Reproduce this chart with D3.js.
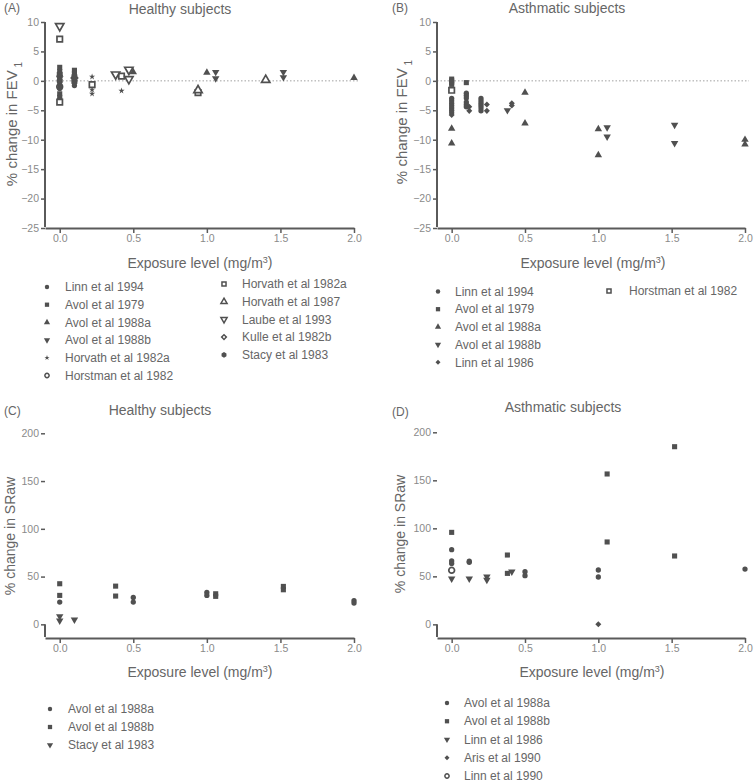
<!DOCTYPE html>
<html>
<head>
<meta charset="utf-8">
<script src="https://cdn.jsdelivr.net/npm/d3@7"></script>
<style>
    body { margin: 0; background: #fff; }
    svg { font-family: "Liberation Sans", Arial, sans-serif; }
</style>
</head>
<body>
<svg id="chart" width="755" height="782"></svg>
<script>
// ── Axis ticks ─────────────────────────────────────────────────────────────
const xTicks    = [0, 0.5, 1.0, 1.5, 2.0];
const fevTicks  = [10, 5, 0, -5, -10, -15, -20, -25];
const srawTicks = [0, 50, 100, 150, 200];

// ── Panel A: healthy subjects, % change in FEV1  ([exposure, change]) ──────
const aHorstman1982    = [[0, -1.0]];
const aLinn1994        = [[0, 0.8], [0, 0.3], [0, -0.2], [0, -0.7], [0, -1.3], [0.1, -0.3], [0.1, -0.8]];
const aAvol1979        = [[0, 2.3], [0, 1.6], [0, -2.2], [0, -2.8], [0, -3.3], [0.1, 1.8], [0.1, 1.2]];
const aAvol1988a       = [[0, 1.1], [0.5, 1.5], [1.0, 1.4], [2.0, 0.5]];
const aAvol1988b       = [[0, 0.4], [1.06, 1.5], [1.06, 0.4], [1.52, 1.5], [1.52, 0.6]];
const aHorvath1982a    = [[0.22, 0.7], [0.22, -1.5], [0.22, -2.2], [0.42, -1.7]];
const aKulle1982b      = [[0.1, 0.5]];
const aStacy1983       = [[0, 0.0], [0, 1.2], [0.1, 0.2], [0.1, 0.8], [0.1, -0.2]];
const aHorvath1982aSq  = [[0, 7.1], [0, -3.6], [0.22, -0.65], [0.42, 0.8], [0.94, -2.0]];
const aHorvath1987     = [[0.94, -1.6], [1.4, 0.15]];
const aLaube1993       = [[0, 9.3], [0.38, 1.1], [0.47, 1.9], [0.47, 0.3]];

// ── Panel B: asthmatic subjects, % change in FEV1 ──────────────────────────
const bLinn1994     = [[0, -3.0], [0, -3.4], [0, -3.8], [0, -4.2], [0, -4.6], [0, -5.0], [0, -5.4],
                       [0.1, -2.1], [0.1, -2.5], [0.1, -2.9], [0.1, -3.6], [0.1, -4.0], [0.1, -4.4],
                       [0.2, -3.0], [0.2, -3.4], [0.2, -3.8], [0.2, -4.2], [0.2, -4.6], [0.2, -5.1]];
const bAvol1979     = [[0, 0.3], [0, 0], [0, -0.3], [0, -0.6], [0.1, -0.3]];
const bAvol1988a    = [[0, -8.1], [0, -10.6], [0.5, -2.0], [0.5, -7.2], [1.0, -8.2], [1.0, -12.6], [2.0, -10.0], [2.0, -10.8]];
const bAvol1988b    = [[0.38, -5.0], [1.06, -7.9], [1.06, -9.5], [1.52, -7.5], [1.52, -10.6]];
const bLinn1986     = [[0, -5.8], [0.12, -4.4], [0.12, -5.1], [0.24, -4.0], [0.24, -5.1], [0.41, -3.8], [0.41, -4.2]];
const bHorstman1982 = [[0, -1.6]];

// ── Panel C: healthy subjects, % change in SRaw ────────────────────────────
const cAvol1988a = [[0, 23.3], [0.5, 28.2], [0.5, 23.3], [1.0, 33.4], [1.0, 30.3], [2.0, 24.7], [2.0, 22.3]];
const cAvol1988b = [[0, 42.5], [0, 30.3], [0.38, 40], [0.38, 29.6], [1.06, 32], [1.06, 29.3], [1.52, 39.7], [1.52, 36.2]];
const cStacy1983 = [[0, 8.4], [0, 3.8], [0.1, 4.9]];

// ── Panel D: asthmatic subjects, % change in SRaw ──────────────────────────
const dAvol1988a = [[0, 77.8], [0, 66], [0, 63.5], [0.12, 65.8], [0.12, 64.6], [0.5, 54.9], [0.5, 50.7],
                    [1.0, 56.6], [1.0, 49.3], [2.0, 57.6]];
const dAvol1988b = [[0, 95.8], [0.38, 72.2], [0.38, 53.1], [1.06, 156.6], [1.06, 85.8], [1.52, 185], [1.52, 71.2]];
const dLinn1986  = [[0, 47.6], [0.12, 47.6], [0.24, 49.7], [0.24, 46.2], [0.41, 54.9]];
const dAris1990  = [[1.0, 0]];
const dLinn1990  = [[0, 56.3]];

(function () {
    const INK = "#505050", AXIS = "#5a5a5a", TXT = "#666", TICK = "#8a8a8a";
    const svg = d3.select("#chart");

    // ── Marker shapes ──────────────────────────────────────────────────────
    const hexagon = {
        draw(ctx, size) {
            const r = Math.sqrt(size / 2.598);
            for (let i = 0; i < 6; i++) {
                const a = Math.PI / 6 + i * Math.PI / 3;
                i ? ctx.lineTo(r * Math.cos(a), r * Math.sin(a)) : ctx.moveTo(r * Math.cos(a), r * Math.sin(a));
            }
            ctx.closePath();
        }
    };
    const SHAPES = {
        circle:           { type: d3.symbolCircle,   size: 22, fill: true },
        square:           { type: d3.symbolSquare,   size: 26, fill: true },
        triangle:         { type: d3.symbolTriangle, size: 24, fill: true },
        triangleDown:     { type: d3.symbolTriangle, size: 24, fill: true, rot: 180 },
        star:             { type: d3.symbolStar,     size: 12, fill: true },
        diamond:          { type: d3.symbolSquare,   size: 18, fill: true, rot: 45 },
        hexagon:          { type: hexagon,           size: 30, fill: true },
        openCircle:       { type: d3.symbolCircle,   size: 26, fill: false },
        openSquare:       { type: d3.symbolSquare,   size: 30, fill: false },
        openTriangle:     { type: d3.symbolTriangle, size: 30, fill: false },
        openTriangleDown: { type: d3.symbolTriangle, size: 30, fill: false, rot: 180 },
        openDiamond:      { type: d3.symbolSquare,   size: 20, fill: false, rot: 45 }
    };

    function marker(g, shape, x, y, k) {
        const s = SHAPES[shape];
        const legend = k !== undefined;
        const scale = legend ? (s.fill ? k : 0.55) : 1;
        g.append("path")
            .attr("d", d3.symbol().type(s.type).size(s.size * scale)())
            .attr("transform", `translate(${x},${y})` + (s.rot ? ` rotate(${s.rot})` : ""))
            .attr("fill", s.fill ? INK : "#fff")
            .attr("stroke", s.fill ? "none" : INK)
            .attr("stroke-width", s.fill ? 0 : (legend ? 1.5 : 1.7));
    }

    function xLabel(x, y) {
        const t = svg.append("text").attr("x", x).attr("y", y).attr("text-anchor", "middle")
            .attr("dy", "0.35em").attr("font-size", 14).attr("fill", TXT).text("Exposure level (mg/m");
        t.append("tspan").attr("font-size", 9).attr("dy", "-0.6em").text("3");
        t.append("tspan").attr("dy", "0.35em").text(")");
    }

    // ── Panel builder ──────────────────────────────────────────────────────
    function drawPanel(p) {
        const x = d3.scaleLinear().domain([-0.1, 2.0]).range([p.x0, p.x1]);
        const y = d3.scaleLinear().domain(p.yDomain).range([p.yBottom, p.yTop]);
        const g = svg.append("g");

        // zero reference line
        if (p.zeroLine) {
            g.append("line").attr("x1", p.x0).attr("x2", p.x1 + 4)
                .attr("y1", y(0)).attr("y2", y(0))
                .attr("stroke", "#a0a0a0").attr("stroke-width", 1).attr("stroke-dasharray", "1.5,2");
        }

        const yAx = g.append("g").attr("transform", `translate(${p.x0},0)`)
            .call(d3.axisLeft(y).tickValues(p.yTicks).tickSize(4).tickPadding(2).tickSizeOuter(0));
        const xAx = g.append("g").attr("transform", `translate(0,${p.yBottom})`)
            .call(d3.axisBottom(x).tickValues(xTicks).tickFormat(d3.format(".1f")).tickSize(5).tickPadding(2).tickSizeOuter(0));
        [yAx, xAx].forEach(ax => {
            ax.attr("color", AXIS);
            ax.select(".domain").attr("stroke", AXIS).attr("stroke-width", 2);
            ax.selectAll(".tick line").attr("stroke", AXIS).attr("stroke-width", 1.5);
            ax.selectAll(".tick text").attr("fill", TICK).attr("font-size", 10.5)
                .attr("font-family", "Liberation Sans, Arial, sans-serif");
        });
        yAx.select(".domain").attr("d", `M0,${p.yBottom - 1}V${y(p.yTicks[0])}`);

        // markers
        p.series.forEach(s => s.data.forEach(([dx, dy]) => marker(g, s.shape, x(dx), y(dy))));

        // titles
        svg.append("text").attr("x", p.tagX).attr("y", p.tagY).attr("dy", "0.35em")
            .attr("font-size", 12).attr("fill", TXT).text(p.tag);
        svg.append("text").attr("x", p.titleX).attr("y", p.titleY).attr("dy", "0.35em")
            .attr("text-anchor", "middle").attr("font-size", 14).attr("fill", TXT).text(p.title);

        // y label
        const yl = svg.append("text")
            .attr("transform", `translate(${p.ylX},${p.ylY}) rotate(-90)`)
            .attr("text-anchor", "middle").attr("dy", "0.35em")
            .attr("font-size", p.ylSize).attr("fill", TXT).text(p.yLabel);
        if (p.ylSub) yl.append("tspan").attr("font-size", 10).attr("dy", "0.45em").text(" " + p.ylSub);

        xLabel(p.xlX, p.xlY);

        // legend
        p.legend.forEach(col => col.items.forEach((s, i) => {
            const yy = col.y + i * col.dy;
            marker(svg, s.shape, col.sx, yy, 0.7);
            svg.append("text").attr("x", col.tx).attr("y", yy).attr("dy", "0.35em")
                .attr("font-size", 12).attr("fill", TXT).text(s.name);
        }));
    }

    // ── Series lists ───────────────────────────────────────────────────────
    const sA = {
        horstman: { name: "Horstman et al 1982", shape: "openCircle", data: aHorstman1982 },
        linn94:   { name: "Linn et al 1994", shape: "circle", data: aLinn1994 },
        avol79:   { name: "Avol et al 1979", shape: "square", data: aAvol1979 },
        avol88a:  { name: "Avol et al 1988a", shape: "triangle", data: aAvol1988a },
        avol88b:  { name: "Avol et al 1988b", shape: "triangleDown", data: aAvol1988b },
        horv82:   { name: "Horvath et al 1982a", shape: "star", data: aHorvath1982a },
        kulle:    { name: "Kulle et al 1982b", shape: "openDiamond", data: aKulle1982b },
        stacy:    { name: "Stacy et al 1983", shape: "hexagon", data: aStacy1983 },
        horv82sq: { name: "Horvath et al 1982a", shape: "openSquare", data: aHorvath1982aSq },
        horv87:   { name: "Horvath et al 1987", shape: "openTriangle", data: aHorvath1987 },
        laube:    { name: "Laube et al 1993", shape: "openTriangleDown", data: aLaube1993 }
    };
    const sB = {
        linn94:   { name: "Linn et al 1994", shape: "circle", data: bLinn1994 },
        avol79:   { name: "Avol et al 1979", shape: "square", data: bAvol1979 },
        avol88a:  { name: "Avol et al 1988a", shape: "triangle", data: bAvol1988a },
        avol88b:  { name: "Avol et al 1988b", shape: "triangleDown", data: bAvol1988b },
        linn86:   { name: "Linn et al 1986", shape: "diamond", data: bLinn1986 },
        horstman: { name: "Horstman et al 1982", shape: "openSquare", data: bHorstman1982 }
    };
    const sC = {
        avol88a: { name: "Avol et al 1988a", shape: "circle", data: cAvol1988a },
        avol88b: { name: "Avol et al 1988b", shape: "square", data: cAvol1988b },
        stacy:   { name: "Stacy et al 1983", shape: "triangleDown", data: cStacy1983 }
    };
    const sD = {
        avol88a: { name: "Avol et al 1988a", shape: "circle", data: dAvol1988a },
        avol88b: { name: "Avol et al 1988b", shape: "square", data: dAvol1988b },
        linn86:  { name: "Linn et al 1986", shape: "triangleDown", data: dLinn1986 },
        aris:    { name: "Aris et al 1990", shape: "diamond", data: dAris1990 },
        linn90:  { name: "Linn et al 1990", shape: "openCircle", data: dLinn1990 }
    };

    drawPanel({
        tag: "(A)", tagX: 4, tagY: 8, title: "Healthy subjects", titleX: 180, titleY: 9,
        x0: 45, x1: 354, yTop: 22, yBottom: 228, yDomain: [-25, 10], yTicks: fevTicks, zeroLine: true,
        yLabel: "% change in FEV", ylSub: "1", ylSize: 15, ylX: 12, ylY: 124, xlX: 200, xlY: 263,
        series: [sA.horstman, sA.kulle, sA.linn94, sA.avol79, sA.avol88a, sA.avol88b, sA.horv82,
                 sA.stacy, sA.horv82sq, sA.horv87, sA.laube],
        legend: [
            { sx: 47, tx: 65, y: 287, dy: 17.7, items: [sA.linn94, sA.avol79, sA.avol88a, sA.avol88b, sA.horv82, sA.horstman] },
            { sx: 224, tx: 242, y: 284, dy: 17.7, items: [sA.horv82sq, sA.horv87, sA.laube, sA.kulle, sA.stacy] }
        ]
    });

    drawPanel({
        tag: "(B)", tagX: 392, tagY: 8, title: "Asthmatic subjects", titleX: 567, titleY: 8,
        x0: 437, x1: 745, yTop: 22, yBottom: 228, yDomain: [-25, 10], yTicks: fevTicks, zeroLine: true,
        yLabel: "% change in FEV", ylSub: "1", ylSize: 15, ylX: 402, ylY: 122, xlX: 593, xlY: 263,
        series: [sB.linn94, sB.avol79, sB.avol88a, sB.avol88b, sB.linn86, sB.horstman],
        legend: [
            { sx: 438, tx: 455, y: 291.5, dy: 17.7, items: [sB.linn94, sB.avol79, sB.avol88a, sB.avol88b, sB.linn86] },
            { sx: 609, tx: 629, y: 291, dy: 17.7, items: [sB.horstman] }
        ]
    });

    drawPanel({
        tag: "(C)", tagX: 4, tagY: 411, title: "Healthy subjects", titleX: 160, titleY: 410,
        x0: 45, x1: 354, yTop: 433.3, yBottom: 638, yDomain: [-14.3, 200], yTicks: srawTicks, zeroLine: false,
        yLabel: "% change in SRaw", ylSize: 14, ylX: 10, ylY: 536, xlX: 200, xlY: 672,
        series: [sC.avol88a, sC.avol88b, sC.stacy],
        legend: [
            { sx: 50, tx: 68, y: 709, dy: 18, items: [sC.avol88a, sC.avol88b, sC.stacy] }
        ]
    });

    drawPanel({
        tag: "(D)", tagX: 392, tagY: 412, title: "Asthmatic subjects", titleX: 563, titleY: 407,
        x0: 437, x1: 745, yTop: 432.3, yBottom: 638, yDomain: [-14.2, 200], yTicks: srawTicks, zeroLine: false,
        yLabel: "% change in SRaw", ylSize: 14, ylX: 400, ylY: 534, xlX: 592, xlY: 672,
        series: [sD.avol88a, sD.avol88b, sD.linn86, sD.aris, sD.linn90],
        legend: [
            { sx: 447, tx: 464, y: 703, dy: 18.25, items: [sD.avol88a, sD.avol88b, sD.linn86, sD.aris, sD.linn90] }
        ]
    });
})();
</script>
</body>
</html>
